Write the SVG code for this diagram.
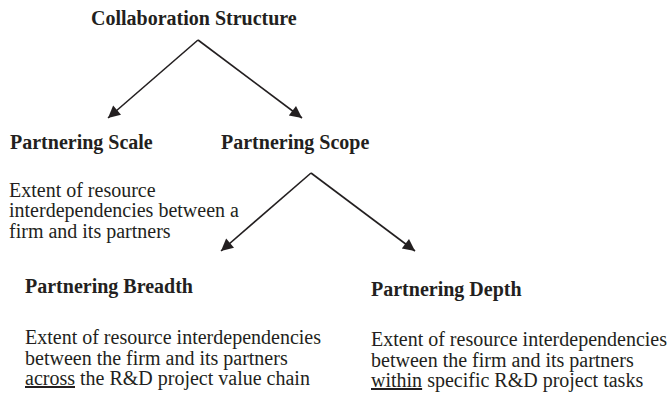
<svg xmlns="http://www.w3.org/2000/svg" width="672" height="397" viewBox="0 0 672 397">
  <style>
    text { font-family: "Liberation Serif", "Times New Roman", serif; fill: #231f20; }
    .head { font-size: 20px; font-weight: bold; }
    .title { font-size: 20px; font-weight: bold; }
    .body { font-size: 20px; }
    .u { text-decoration: underline; }
    .conn { stroke: #231f20; stroke-width: 1.6; fill: none; marker-end: url(#arrow); }
  </style>
  <defs>
    <marker id="arrow" viewBox="0 0 10 10" refX="10" refY="5" markerUnits="userSpaceOnUse" markerWidth="14" markerHeight="12" orient="auto">
      <path d="M0,0 L10,5 L0,10 Z" fill="#231f20"/>
    </marker>
  </defs>

  <rect width="672" height="397" fill="#ffffff"/>

  <g id="connectors">
    <line class="conn" x1="198" y1="40" x2="108" y2="118"/>
    <line class="conn" x1="198" y1="40" x2="302" y2="118"/>
    <line class="conn" x1="311" y1="173" x2="221" y2="251"/>
    <line class="conn" x1="311" y1="173" x2="415" y2="251"/>
  </g>

  <g id="collaboration-structure">
    <text class="title" x="91" y="25">Collaboration Structure</text>
  </g>

  <g id="partnering-scale">
    <text class="head" x="10" y="149">Partnering Scale</text>
    <text class="body" x="9" y="197">Extent of resource</text>
    <text class="body" x="9" y="217">interdependencies between a</text>
    <text class="body" x="9" y="237.5">firm and its partners</text>
  </g>

  <g id="partnering-scope">
    <text class="head" x="221" y="149">Partnering Scope</text>
  </g>

  <g id="partnering-breadth">
    <text class="head" x="25" y="293">Partnering Breadth</text>
    <text class="body" x="25" y="344">Extent of resource interdependencies</text>
    <text class="body" x="25" y="364.5">between the firm and its partners</text>
    <text class="body" x="25" y="385"><tspan class="u">across</tspan> the R&amp;D project value chain</text>
  </g>

  <g id="partnering-depth">
    <text class="head" x="371" y="296">Partnering Depth</text>
    <text class="body" x="371" y="346">Extent of resource interdependencies</text>
    <text class="body" x="371" y="366.5">between the firm and its partners</text>
    <text class="body" x="371" y="387"><tspan class="u">within</tspan> specific R&amp;D project tasks</text>
  </g>
</svg>
